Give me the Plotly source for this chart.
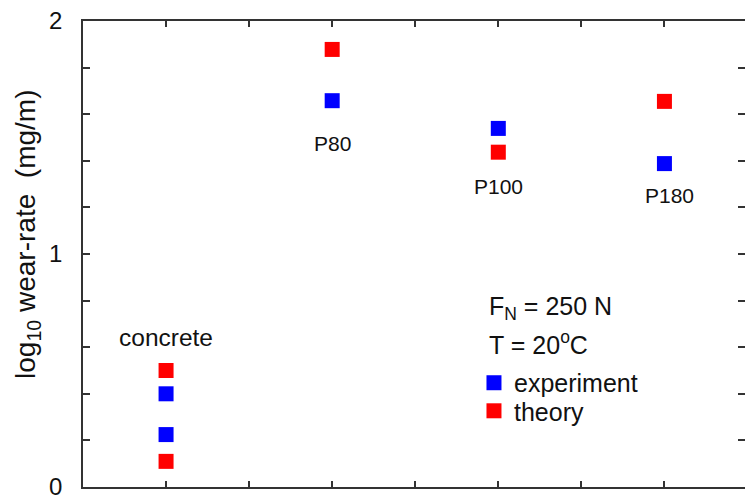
import plotly.graph_objects as go

# data
categories = ["concrete", "P80", "P100", "P180"]
exp_x = [1, 1, 3, 5, 7]
exp_y = [0.40, 0.225, 1.658, 1.539, 1.388]
theo_x = [1, 1, 3, 5, 7]
theo_y = [0.50, 0.11, 1.878, 1.437, 1.655]
label_x = [1, 3, 5, 7.06]
label_y = [0.64, 1.476, 1.288, 1.249]
ytick_vals = [round(0.2 * i, 1) for i in range(11)]
ytick_text = ["0", "", "", "", "", "1", "", "", "", "", "2"]

FONT = "Liberation Sans, Arial, sans-serif"
TXT = "#111111"

fig = go.Figure()
fig.add_trace(go.Scatter(x=exp_x, y=exp_y, mode="markers", name="experiment",
                         legend="legend",
                         marker=dict(symbol="square", size=15, color="#0000FF",
                                     line=dict(width=0))))
fig.add_trace(go.Scatter(x=theo_x, y=theo_y, mode="markers", name="theory",
                         legend="legend2",
                         marker=dict(symbol="square", size=15, color="#FF0000",
                                     line=dict(width=0))))

sizes = [24.5, 21, 21, 21]
for c, x, y, s in zip(categories, label_x, label_y, sizes):
    fig.add_annotation(x=x, y=y, text=c, showarrow=False, xref="x", yref="y",
                       font=dict(size=s, color=TXT, family=FONT))

fig.add_annotation(x=0.610, y=0.384, xref="paper", yref="paper", xanchor="left",
                   yanchor="middle", text="F<sub>N</sub> = 250 N", showarrow=False,
                   font=dict(size=25, color=TXT, family=FONT))
fig.add_annotation(x=0.610, y=0.309, xref="paper", yref="paper", xanchor="left",
                   yanchor="middle", text="T = 20<sup>o</sup>C", showarrow=False,
                   font=dict(size=25, color=TXT, family=FONT))
# y-axis title
fig.add_annotation(x=-0.083, y=0.541, xref="paper", yref="paper", textangle=-90,
                   xanchor="center", yanchor="middle",
                   text="log<sub>10</sub> wear-rate&nbsp; (mg/m)", showarrow=False,
                   font=dict(size=28, color=TXT, family=FONT))

leg_common = dict(xanchor="left", yanchor="middle", bgcolor="rgba(0,0,0,0)",
                  font=dict(size=25, family=FONT, color=TXT), itemsizing="trace",
                  borderwidth=0)

fig.update_layout(
    width=745, height=499,
    margin=dict(l=83, r=0, t=21, b=12),
    plot_bgcolor="white", paper_bgcolor="white",
    font=dict(family=FONT, color=TXT),
    showlegend=True,
    legend=dict(x=0.5906, y=0.2232, **leg_common),
    legend2=dict(x=0.5906, y=0.163, **leg_common),
    xaxis=dict(range=[0, 7.97], tickvals=list(range(0, 9)), ticktext=[""] * 9,
               ticks="inside", ticklen=6, tickcolor="#333333", tickwidth=1.5,
               showline=True, linecolor="#333333", linewidth=1.5, mirror="ticks",
               showgrid=False, zeroline=False, automargin=False),
    yaxis=dict(range=[0, 2], tickvals=ytick_vals, ticktext=ytick_text,
               ticks="inside", ticklen=7, tickcolor="#333333", tickwidth=1.5,
               showline=True, linecolor="#333333", linewidth=1.5, mirror="ticks",
               showgrid=False, zeroline=False, automargin=False,
               ticklabeloverflow="allow",
               tickfont=dict(size=24, family=FONT, color=TXT),
               ticklabelstandoff=14),
)

fig.write_html("out.html", config={"displayModeBar": False},
               post_script="document.body.style.margin='0px';document.body.style.overflow='hidden';")
